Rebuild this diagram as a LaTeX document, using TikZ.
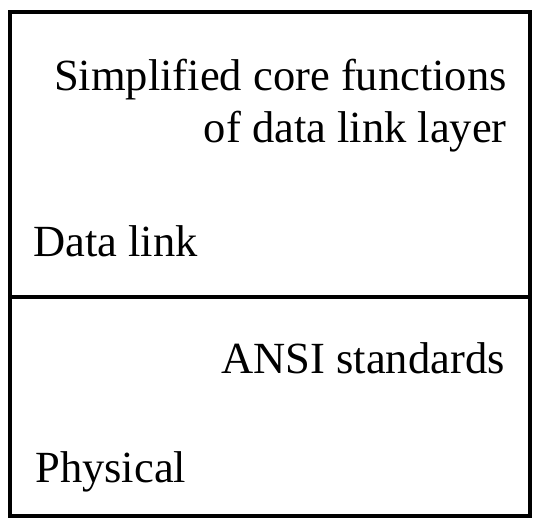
\documentclass[tikz,border=0pt]{standalone}
\usepackage{fontspec}
\setmainfont{Liberation Serif}

\begin{document}
\begin{tikzpicture}[x=0.75pt,y=0.75pt,yscale=-1,xscale=1]
\useasboundingbox (0,0) rectangle (555,518);

%Shape: Rectangle [id:frame]
\draw [line width=3.6pt]  (10,12) -- (530,12) -- (530,516) -- (10,516) -- cycle ;
%Straight Lines [id:divider]
\draw [line width=3.6pt]  (10,297) -- (530,297) ;

% Text Node
\node (fnA) at (507,90) [anchor=base east][inner sep=0pt] [font=\fontsize{33.4}{40}\selectfont] {Simplified core functions};
% Text Node
\node (fnB) at (507,142) [anchor=base east][inner sep=0pt] [font=\fontsize{33.4}{40}\selectfont] {of data link layer};
% Text Node
\node (dlink) at (33,256) [anchor=base west][inner sep=0pt] [font=\fontsize{33.4}{40}\selectfont] {Data link};
% Text Node
\node (ansi) at (505,373) [anchor=base east][inner sep=0pt] [font=\fontsize{33.4}{40}\selectfont] {ANSI standards};
% Text Node
\node (phys) at (35,482) [anchor=base west][inner sep=0pt] [font=\fontsize{33.4}{40}\selectfont] {Physical};

\end{tikzpicture}
\end{document}
